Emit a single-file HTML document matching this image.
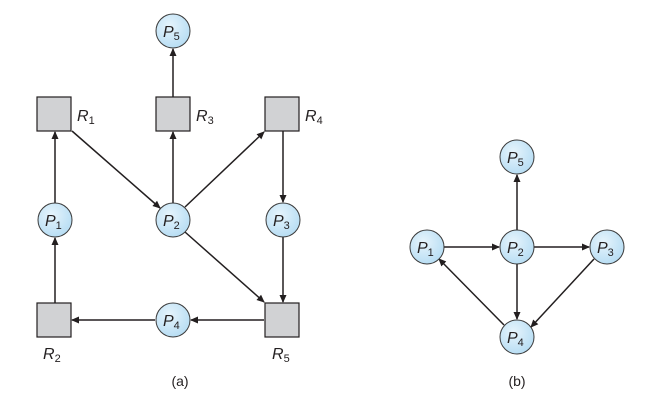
<!DOCTYPE html>
<html><head><style>body{margin:0;background:#fff}svg{display:block}
text{font-family:"Liberation Sans",sans-serif;fill:#231f20}</style></head>
<body>
<svg width="664" height="413" viewBox="0 0 664 413" xmlns="http://www.w3.org/2000/svg">
<defs>
<radialGradient id="g" cx="40%" cy="35%" r="70%"><stop offset="0" stop-color="#e6f4fc"/><stop offset="1" stop-color="#b5dcf3"/></radialGradient>
<marker id="a" markerWidth="8" markerHeight="8" refX="7" refY="4" orient="auto" markerUnits="userSpaceOnUse"><path d="M0,0.5 L8,4 L0,7.5 z" fill="#231f20"/></marker>
</defs>
<g stroke="#231f20" stroke-width="1.5" fill="none" marker-end="url(#a)">
<line x1="173" y1="97" x2="173" y2="49"/>
<line x1="55" y1="203" x2="55" y2="132"/>
<line x1="72" y1="131" x2="160" y2="208"/>
<line x1="173" y1="203" x2="173" y2="132"/>
<line x1="185" y1="207" x2="264" y2="132"/>
<line x1="283" y1="131" x2="283" y2="202"/>
<line x1="185" y1="232" x2="264" y2="302"/>
<line x1="283" y1="237" x2="283" y2="302"/>
<line x1="264" y1="320" x2="191" y2="320"/>
<line x1="155" y1="320" x2="72" y2="320"/>
<line x1="55" y1="303" x2="55" y2="238"/>
<line x1="517" y1="230" x2="517" y2="175"/>
<line x1="444" y1="247" x2="499" y2="247"/>
<line x1="534" y1="247" x2="589" y2="247"/>
<line x1="517" y1="264" x2="517" y2="319"/>
<line x1="594" y1="259" x2="531" y2="327"/>
<line x1="504" y1="325" x2="439" y2="259"/>
</g>
<g fill="#d1d2d4" stroke="#231f20" stroke-width="1.2">
<rect x="37" y="97" width="34" height="34"/><rect x="156" y="97" width="34" height="34"/><rect x="265" y="97" width="34" height="34"/>
<rect x="37" y="303" width="34" height="34"/><rect x="265" y="303" width="34" height="34"/>
</g>
<g fill="url(#g)" stroke="#3a3a3a" stroke-width="1">
<circle cx="173" cy="31" r="17"/><circle cx="55" cy="220" r="17"/><circle cx="173" cy="220" r="17"/><circle cx="283" cy="220" r="17"/><circle cx="173" cy="320" r="17"/>
<circle cx="517" cy="157" r="17"/><circle cx="427" cy="247" r="17"/><circle cx="517" cy="247" r="17"/><circle cx="607" cy="247" r="17"/><circle cx="517" cy="337" r="17"/>
</g>
<g font-size="16" font-style="italic">
<text x="163" y="37">P<tspan font-size="11" font-style="normal" dy="3">5</tspan></text>
<text x="45" y="226">P<tspan font-size="11" font-style="normal" dy="3">1</tspan></text>
<text x="163" y="226">P<tspan font-size="11" font-style="normal" dy="3">2</tspan></text>
<text x="273" y="226">P<tspan font-size="11" font-style="normal" dy="3">3</tspan></text>
<text x="163" y="326">P<tspan font-size="11" font-style="normal" dy="3">4</tspan></text>
<text x="507" y="163">P<tspan font-size="11" font-style="normal" dy="3">5</tspan></text>
<text x="417" y="253">P<tspan font-size="11" font-style="normal" dy="3">1</tspan></text>
<text x="507" y="253">P<tspan font-size="11" font-style="normal" dy="3">2</tspan></text>
<text x="597" y="253">P<tspan font-size="11" font-style="normal" dy="3">3</tspan></text>
<text x="507" y="343">P<tspan font-size="11" font-style="normal" dy="3">4</tspan></text>
<text x="77" y="121">R<tspan font-size="11" font-style="normal" dy="3">1</tspan></text>
<text x="196" y="121">R<tspan font-size="11" font-style="normal" dy="3">3</tspan></text>
<text x="305" y="121">R<tspan font-size="11" font-style="normal" dy="3">4</tspan></text>
<text x="43" y="359">R<tspan font-size="11" font-style="normal" dy="3">2</tspan></text>
<text x="272" y="359">R<tspan font-size="11" font-style="normal" dy="3">5</tspan></text>
</g>
<text x="180" y="386" font-size="14" text-anchor="middle">(a)</text>
<text x="517" y="386" font-size="14" text-anchor="middle">(b)</text>
</svg>
</body></html>
